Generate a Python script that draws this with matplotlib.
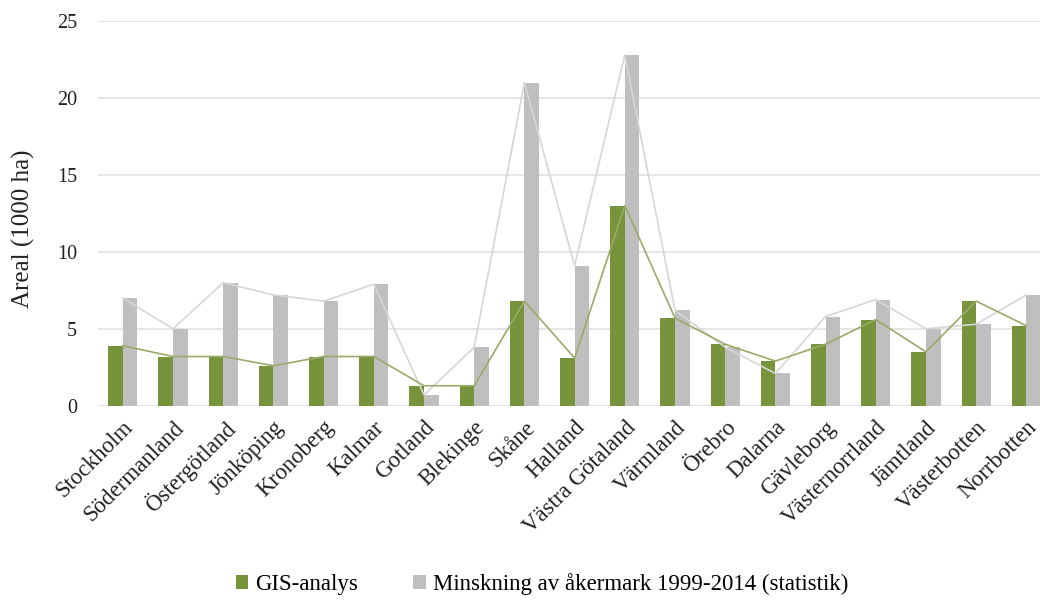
import numpy as np
import matplotlib
matplotlib.use("Agg")
import matplotlib.pyplot as plt

# Counties (län)
lan = ['Stockholm', 'Södermanland', 'Östergötland', 'Jönköping', 'Kronoberg',
       'Kalmar', 'Gotland', 'Blekinge', 'Skåne', 'Halland', 'Västra Götaland',
       'Värmland', 'Örebro', 'Dalarna', 'Gävleborg', 'Västernorrland',
       'Jämtland', 'Västerbotten', 'Norrbotten']

# Area, 1000 ha
gis = [3.9, 3.2, 3.2, 2.6, 3.2, 3.2, 1.3, 1.3, 6.8, 3.1, 13.0,
       5.7, 4.0, 2.9, 4.0, 5.6, 3.5, 6.8, 5.2]
statistik = [7.0, 5.0, 8.0, 7.2, 6.8, 7.9, 0.7, 3.8, 21.0, 9.1, 22.8,
             6.2, 3.8, 2.1, 5.8, 6.9, 5.0, 5.3, 7.2]

plt.rcParams['font.family'] = ['Liberation Serif', 'DejaVu Serif']

fig = plt.figure(figsize=(10.4, 6.02), dpi=100)
ax = fig.add_axes([0.094, 0.326, 0.917, 0.639])

x = np.arange(len(lan))
w = 0.29
ax.bar(x - w / 2, gis, width=w, color='#77933C', label='GIS-analys', zorder=2)
ax.bar(x + w / 2, statistik, width=w, color='#BFBFBF',
       label='Minskning av åkermark 1999-2014 (statistik)', zorder=2)

# thin lines connecting the series values
ax.plot(x, statistik, color='#D6D6D6', lw=1.2, zorder=3)
ax.plot(x, gis, color='#9AAA6A', lw=1.2, zorder=3)

ax.set_xlim(-0.5, len(lan) - 0.5)
ax.set_ylim(0, 25)
ax.set_yticks(range(0, 26, 5))
ax.yaxis.grid(True, color='#E0E0E0', lw=1.2, zorder=0)
ax.set_axisbelow(True)
for s in ax.spines.values():
    s.set_visible(False)
ax.tick_params(length=0, colors='#222222')
ax.tick_params(axis='y', pad=15, labelsize=14.5)
ax.set_xticks(x)
ax.set_xticklabels(lan, rotation=45, ha='right', rotation_mode='anchor')
ax.tick_params(axis='x', pad=8, labelsize=16.5)
ax.set_ylabel('Areal (1000 ha)', fontsize=18, color='#222222')
ax.yaxis.set_label_coords(-0.066, 0.46)

fig.legend(*ax.get_legend_handles_labels(), loc='center',
           bbox_to_anchor=(0.521, 0.03), ncol=2, frameon=False, fontsize=16.5,
           handlelength=0.55, handleheight=0.55, columnspacing=2.4,
           handletextpad=0.3)

fig.savefig('out.png', dpi=100)
